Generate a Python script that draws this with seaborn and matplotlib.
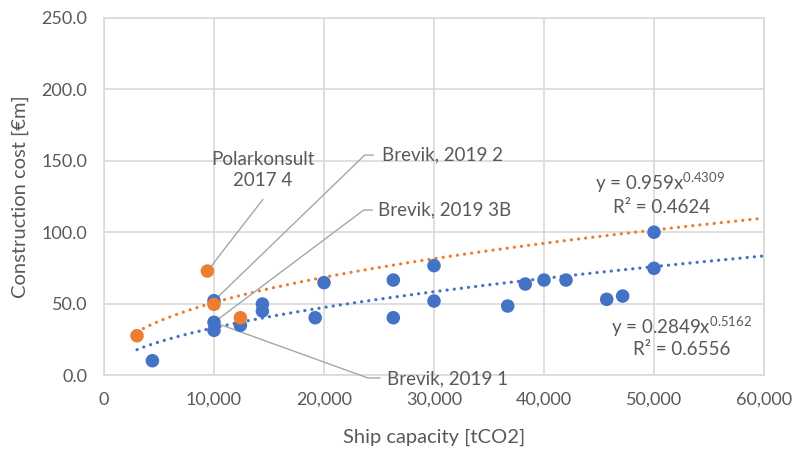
import numpy as np
import pandas as pd
import matplotlib
matplotlib.use("Agg")
import matplotlib.pyplot as plt
import seaborn as sns

# Ship capacity [tCO2] and construction cost [€m]
blue_capacity = [4400, 10000, 10000, 10000, 12400, 14400, 14400, 19200, 20000,
                 26300, 26300, 30000, 30000, 36700, 38300, 40000, 42000,
                 45700, 47150, 50000, 50000]
blue_cost = [10.0, 52.0, 36.9, 31.3, 34.8, 49.7, 44.8, 40.1, 64.7,
             66.5, 40.1, 76.6, 51.8, 48.3, 63.7, 66.5, 66.5,
             53.0, 55.3, 100.0, 74.7]

orange_capacity = [3000, 9400, 10000, 12400]
orange_cost = [27.5, 72.8, 49.5, 40.1]

# Power-law trendlines y = a * x^b
orange_fit = (0.959, 0.4309, 0.4624)
blue_fit = (0.2849, 0.5162, 0.6556)
trend_range = (3000, 60000)

x_ticks = [0, 10000, 20000, 30000, 40000, 50000, 60000]
y_ticks = [0, 50, 100, 150, 200, 250]

BLUE = "#4472C4"
ORANGE = "#ED7D31"
TEXT = "#595959"
GRID = "#D9D9D9"
LEADER = "#A6A6A6"

sns.set_theme(style="white")
plt.rcParams["font.family"] = ["Lato", "DejaVu Sans"]

fig = plt.figure(figsize=(7.93, 4.51), dpi=100)
ax = fig.add_axes([104 / 793, 1 - 375 / 451, 660 / 793, 357 / 451])

xs = np.linspace(*trend_range, 300)
trend = pd.DataFrame({
    "x": np.concatenate([xs, xs]),
    "y": np.concatenate([orange_fit[0] * xs ** orange_fit[1],
                         blue_fit[0] * xs ** blue_fit[1]]),
    "series": ["orange"] * len(xs) + ["blue"] * len(xs),
})
for name, color in [("orange", ORANGE), ("blue", BLUE)]:
    sub = trend[trend["series"] == name]
    sns.lineplot(data=sub, x="x", y="y", ax=ax, color=color, lw=2.3,
                 linestyle=(0, (0.05, 2.2)), dash_capstyle="round", zorder=2)

pts = pd.DataFrame({
    "capacity": blue_capacity + orange_capacity,
    "cost": blue_cost + orange_cost,
    "group": ["blue"] * len(blue_capacity) + ["orange"] * len(orange_capacity),
})
sns.scatterplot(data=pts, x="capacity", y="cost", hue="group",
                palette={"blue": BLUE, "orange": ORANGE}, s=95,
                edgecolor="none", legend=False, ax=ax, zorder=4)

ax.set_xlim(0, 60000)
ax.set_ylim(0, 250)
ax.set_xticks(x_ticks)
ax.set_yticks(y_ticks)
ax.set_xticklabels([f"{v:,}" for v in x_ticks])
ax.set_yticklabels([f"{v:.1f}" for v in y_ticks])
ax.tick_params(axis="both", length=0, labelsize=13, labelcolor=TEXT)
ax.tick_params(axis="x", pad=12)
ax.tick_params(axis="y", pad=12)
ax.grid(True, color=GRID, lw=1.2, zorder=0)
ax.set_axisbelow(True)
for sp in ax.spines.values():
    sp.set_color(GRID)
    sp.set_linewidth(1.2)

ax.set_xlabel("Ship capacity [tCO2]", fontsize=14.5, color=TEXT)
ax.set_ylabel("Construction cost [€m]", fontsize=14.5, color=TEXT)
ax.xaxis.label.set_va("center")
ax.xaxis.set_label_coords(0.5, (375 - 437) / 357)
ax.yaxis.label.set_va("center")
ax.yaxis.set_label_coords((20 - 104) / 660, 0.5)

# Labelled points with leader lines
lead_kw = dict(color=LEADER, lw=1.0, zorder=3, clip_on=False)
lab_kw = dict(fontsize=13.5, color=TEXT, zorder=5, clip_on=False)

ax.plot([14450, 9400], [123, 72.8], **lead_kw)
ax.text(14450, 143.5, "Polarkonsult\n2017 4", ha="center", va="center",
        linespacing=1.3, **lab_kw)

ax.plot([10000, 23700, 24500], [52.0, 154.0, 154.0], **lead_kw)
ax.text(25300, 154.0, "Brevik, 2019 2", ha="left", va="center", **lab_kw)

ax.plot([10000, 23600, 24400], [36.9, 115.5, 115.5], **lead_kw)
ax.text(24900, 115.5, "Brevik, 2019 3B", ha="left", va="center", **lab_kw)

ax.plot([10000, 24000, 25100], [36.9, -2.1, -2.1], **lead_kw)
ax.text(25700, -2.6, "Brevik, 2019 1", ha="left", va="center", **lab_kw)

# Trendline equations
ax.text(50545, 134.5, r"y = 0.959x$^{\mathregular{0.4309}}$", ha="center",
        va="center", **lab_kw)
ax.text(50700, 117.0, f"R² = {orange_fit[2]:.4f}", ha="center", va="center", **lab_kw)
ax.text(52450, 33.6, r"y = 0.2849x$^{\mathregular{0.5162}}$", ha="center",
        va="center", **lab_kw)
ax.text(52550, 18.2, f"R² = {blue_fit[2]:.4f}", ha="center", va="center", **lab_kw)

fig.savefig("out.png", dpi=100)
